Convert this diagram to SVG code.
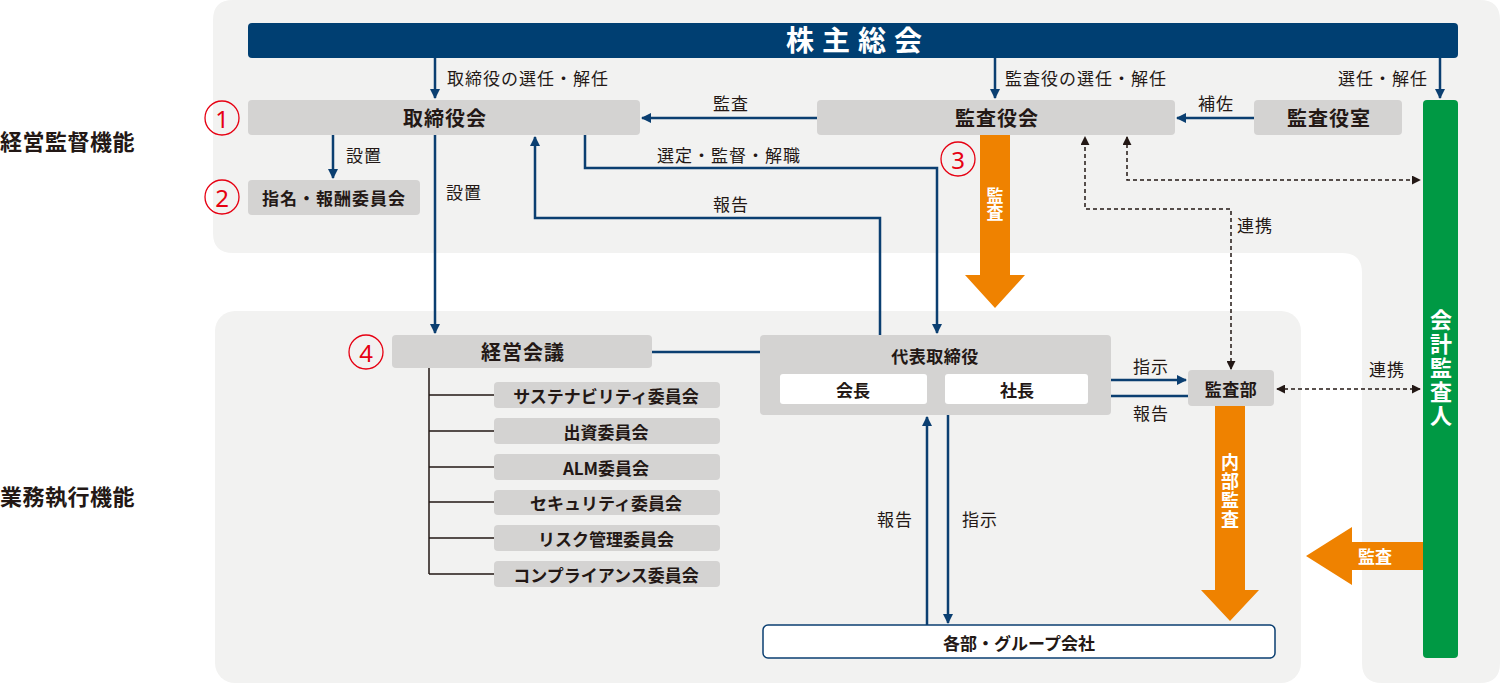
<svg xmlns="http://www.w3.org/2000/svg" width="1500" height="683" viewBox="0 0 1500 683">
<defs>
<style>
text{font-family:"Noto Sans CJK JP","Noto Sans",sans-serif;fill:#231815;}
.lbl{font-size:17px;letter-spacing:1px;}
.box{fill:#d4d3d2;}
.bt{font-size:20px;font-weight:bold;letter-spacing:1px;text-anchor:middle;dominant-baseline:central;}
.ct{font-size:17px;font-weight:bold;text-anchor:middle;dominant-baseline:central;}
.sec{font-size:22px;font-weight:bold;letter-spacing:0.5px;}
.ln{fill:none;stroke:#0b3f71;stroke-width:2.5;}
.blk{fill:none;stroke:#231815;stroke-width:1.5;}
.dash{fill:none;stroke:#231815;stroke-width:1.5;stroke-dasharray:4 3;}
.num{fill:none;stroke:#e60012;stroke-width:1.3;}
.nt{fill:#e60012;font-size:24px;text-anchor:middle;dominant-baseline:central;font-family:"Noto Sans","Noto Sans CJK JP",sans-serif;}
.org{fill:#ef8200;}
.wt{fill:#fff;font-weight:bold;text-anchor:middle;}
.vt{fill:#fff;font-weight:bold;text-anchor:middle;writing-mode:vertical-rl;}
</style>
<marker id="ab" viewBox="0 0 10 10" refX="9" refY="5" markerWidth="4" markerHeight="4" orient="auto-start-reverse" markerUnits="strokeWidth"><path d="M0,0 L10,5 L0,10 z" fill="#0b3f71"/></marker>
<marker id="ak" viewBox="0 0 10 10" refX="9" refY="5" markerWidth="6" markerHeight="6" orient="auto-start-reverse" markerUnits="strokeWidth"><path d="M0,0 L10,5 L0,10 z" fill="#231815"/></marker>
</defs>
<rect width="1500" height="683" fill="#fff"/>
<g id="background">
<path d="M233 0 H1480 Q1500 0 1500 20 V663 Q1500 683 1480 683 H1382 Q1362 683 1362 663 V273 Q1362 253 1342 253 H233 Q213 253 213 233 V20 Q213 0 233 0 Z" fill="#f2f2f1"/>
<rect x="215" y="311" width="1086" height="372" rx="20" fill="#f2f2f1"/>
</g>
<g id="section-labels">
<text class="sec" x="0" y="150">経営監督機能</text>
<text class="sec" x="0" y="505">業務執行機能</text>
</g>
<g id="connectors">
<path class="ln" d="M435 58 V98" marker-end="url(#ab)"/>
<text class="lbl" x="447" y="85">取締役の選任・解任</text>
<path class="ln" d="M995 58 V98" marker-end="url(#ab)"/>
<text class="lbl" x="1005" y="85">監査役の選任・解任</text>
<path class="ln" d="M1440 58 V98" marker-end="url(#ab)"/>
<text class="lbl" x="1338" y="85">選任・解任</text>
<path class="ln" d="M817 118 H642" marker-end="url(#ab)"/>
<text class="lbl" x="713" y="110">監査</text>
<path class="ln" d="M1254 118 H1177" marker-end="url(#ab)"/>
<text class="lbl" x="1198" y="110">補佐</text>
<path class="ln" d="M333 135 V178" marker-end="url(#ab)"/>
<text class="lbl" x="346" y="162">設置</text>
<path class="ln" d="M435 135 V333" marker-end="url(#ab)"/>
<text class="lbl" x="446" y="199">設置</text>
<path class="ln" d="M585 135 V168 H937 V333" marker-end="url(#ab)"/>
<text class="lbl" x="657" y="162">選定・監督・解職</text>
<path class="ln" d="M880 335 V218 H535 V137" marker-end="url(#ab)"/>
<text class="lbl" x="713" y="211">報告</text>
<path class="ln" d="M652 352 H760"/>
<path class="ln" d="M1088 380 H1186" marker-end="url(#ab)"/>
<text class="lbl" x="1133" y="373">指示</text>
<path class="ln" d="M1188 396 H1090" marker-end="url(#ab)"/>
<text class="lbl" x="1133" y="420">報告</text>
<path class="ln" d="M927 625 V417" marker-end="url(#ab)"/>
<text class="lbl" x="877" y="526">報告</text>
<path class="ln" d="M948 415 V623" marker-end="url(#ab)"/>
<text class="lbl" x="962" y="526">指示</text>
<path class="dash" d="M1231 369 V209 H1085 V137" marker-start="url(#ak)" marker-end="url(#ak)"/>
<text class="lbl" x="1237" y="232">連携</text>
<path class="dash" d="M1127 137 V180 H1420" marker-start="url(#ak)" marker-end="url(#ak)"/>
<path class="dash" d="M1277 389 H1420" marker-start="url(#ak)" marker-end="url(#ak)"/>
<text class="lbl" x="1369" y="376">連携</text>
<path class="blk" d="M429 368 V574 M429 395 H494 M429 431 H494 M429 467 H494 M429 502 H494 M429 538 H494 M429 574 H494"/>
<path class="org" d="M980 135 H1010 V275 H1025 L995 308 L965 275 H980 Z"/>
<text class="vt" font-size="17" x="995" y="204">監査</text>
<path class="org" d="M1215 406 H1245 V590 H1259 L1230 621 L1201 590 H1215 Z"/>
<text class="vt" font-size="18" letter-spacing="1" x="1230" y="491">内部監査</text>
<path class="org" d="M1423 542 V570 H1352 V585 L1306 556 L1352 527 V542 Z"/>
<text class="wt" font-size="17" x="1375" y="563">監査</text>
</g>
<g id="kabunushi">
<rect x="248" y="23" width="1210" height="35" rx="4" fill="#003f72"/>
<text class="wt" font-size="28" x="858" y="51" letter-spacing="8">株主総会</text>
</g>
<g id="torishimariyakukai">
<rect class="box" x="248" y="100" width="392" height="35" rx="4"/>
<text class="bt" x="445" y="117">取締役会</text>
<circle class="num" cx="222" cy="118" r="17"/><text class="nt" x="222" y="118">1</text>
</g>
<g id="shimei">
<rect class="box" x="248" y="180" width="172" height="35" rx="4"/>
<text class="ct" x="334" y="197" letter-spacing="1">指名・報酬委員会</text>
<circle class="num" cx="222" cy="197" r="17"/><text class="nt" x="222" y="197">2</text>
</g>
<g id="kansayakukai">
<rect class="box" x="817" y="100" width="358" height="35" rx="4"/>
<text class="bt" x="997" y="117">監査役会</text>
<circle class="num" cx="958" cy="159" r="17"/><text class="nt" x="958" y="159">3</text>
</g>
<g id="kansayakushitsu">
<rect class="box" x="1254" y="100" width="148" height="35" rx="4"/>
<text class="bt" x="1329" y="117">監査役室</text>
</g>
<g id="kaikei">
<rect x="1423" y="100" width="35" height="558" rx="4" fill="#009944"/>
<text class="vt" font-size="22" letter-spacing="2" x="1441" y="369">会計監査人</text>
</g>
<g id="keieikaigi">
<rect class="box" x="392" y="335" width="260" height="33" rx="4"/>
<text class="bt" x="523" y="351">経営会議</text>
<circle class="num" cx="366" cy="352" r="17"/><text class="nt" x="366" y="352">4</text>
</g>
<g id="c1"><rect class="box" x="494" y="382" width="226" height="26" rx="4"/><text class="ct" x="606" y="395">サステナビリティ委員会</text></g>
<g id="c2"><rect class="box" x="494" y="418" width="226" height="26" rx="4"/><text class="ct" x="606" y="431">出資委員会</text></g>
<g id="c3"><rect class="box" x="494" y="454" width="226" height="26" rx="4"/><text class="ct" x="606" y="467">ALM委員会</text></g>
<g id="c4"><rect class="box" x="494" y="490" width="226" height="25" rx="4"/><text class="ct" x="606" y="502">セキュリティ委員会</text></g>
<g id="c5"><rect class="box" x="494" y="525" width="226" height="26" rx="4"/><text class="ct" x="606" y="538">リスク管理委員会</text></g>
<g id="c6"><rect class="box" x="494" y="561" width="226" height="26" rx="4"/><text class="ct" x="606" y="574">コンプライアンス委員会</text></g>
<g id="daihyo">
<rect class="box" x="760" y="335" width="351" height="80" rx="4"/>
<text class="ct" x="935" y="355" font-size="18" letter-spacing="0.5">代表取締役</text>
<rect x="780" y="374" width="147" height="30" rx="3" fill="#fff"/>
<text class="ct" x="853" y="389" font-size="18">会長</text>
<rect x="945" y="374" width="143" height="30" rx="3" fill="#fff"/>
<text class="ct" x="1017" y="389" font-size="18">社長</text>
</g>
<g id="kansabu">
<rect class="box" x="1188" y="370" width="86" height="36" rx="4"/>
<text class="ct" x="1231" y="388" font-size="18" letter-spacing="0.5">監査部</text>
</g>
<g id="kakubu">
<rect x="763" y="625" width="512" height="33" rx="5" fill="#fff" stroke="#0b3f71" stroke-width="1.5"/>
<text class="ct" x="1019" y="642">各部・グループ会社</text>
</g>
</svg>
